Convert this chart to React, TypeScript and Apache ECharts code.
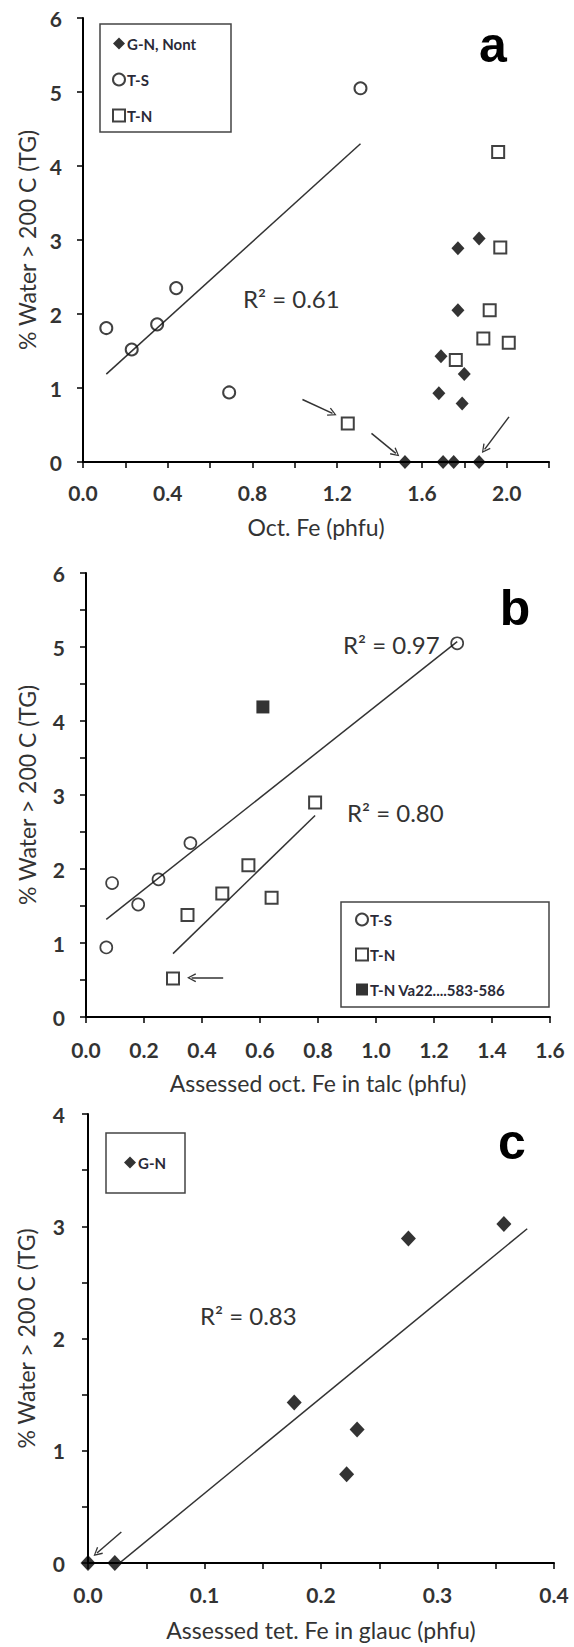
import React, { useEffect, useRef } from "react";
import * as echarts from "echarts";

// ---- Panel a: Oct. Fe (phfu) vs % water > 200 C ----
const aGN_x = [1.77, 1.87, 1.77, 1.69, 1.8, 1.68, 1.79, 1.52, 1.7, 1.75, 1.87];
const aGN_y = [2.89, 3.02, 2.05, 1.43, 1.19, 0.93, 0.79, 0, 0, 0, 0];
const aTS_x = [0.11, 0.23, 0.35, 0.44, 0.69, 1.31];
const aTS_y = [1.81, 1.52, 1.86, 2.35, 0.94, 5.05];
const aTN_x = [1.96, 1.97, 1.92, 1.89, 2.01, 1.76, 1.25];
const aTN_y = [4.19, 2.9, 2.05, 1.67, 1.61, 1.38, 0.52];
const aR2 = "R² = 0.61";
const aXTicks = ["0.0", "0.4", "0.8", "1.2", "1.6", "2.0"];

// ---- Panel b: assessed oct. Fe in talc ----
const bTS_x = [0.07, 0.09, 0.18, 0.25, 0.36, 1.28];
const bTS_y = [0.94, 1.81, 1.52, 1.86, 2.35, 5.05];
const bTN_x = [0.3, 0.35, 0.47, 0.56, 0.64, 0.79];
const bTN_y = [0.52, 1.38, 1.67, 2.05, 1.61, 2.9];
const bVa_x = [0.61];
const bVa_y = [4.19];
const bR2 = ["R² = 0.97", "R² = 0.80"];

// ---- Panel c: assessed tet. Fe in glauconite ----
const cGN_x = [0.0, 0.023, 0.177, 0.222, 0.231, 0.275, 0.357];
const cGN_y = [0, 0, 1.43, 0.79, 1.19, 2.89, 3.02];
const cTrendSpan = [0, 0.377];
const cR2 = "R² = 0.83";

// Annotation arrows, [start, end] in data units of each panel
const aArrows = [
  [[1.036, 0.845], [1.178, 0.657]],
  [[1.362, 0.387], [1.477, 0.117]],
  [[2.011, 0.61], [1.896, 0.171]],
];
const bArrows = [[[0.473, 0.53], [0.364, 0.53]]];
const cArrows = [[[0.0286, 0.276], [0.0077, 0.089]]];

const FONT = "Lato, 'Open Sans', sans-serif";
const TEXT = "#333";
const Y_NAME = "% Water > 200 C (TG)";
const ARROW_HEAD = "path://M5,0 L10,9 L8.7,9.7 L5,2.6 L1.3,9.7 L0,9 Z";

const pairs = (xs: number[], ys: number[]) => xs.map((x, i) => [x, ys[i]]);

// least-squares fit drawn between two x positions
function trend(xs: number[], ys: number[], x0 = Math.min(...xs), x1 = Math.max(...xs)) {
  const n = xs.length;
  const mx = xs.reduce((s, v) => s + v, 0) / n;
  const my = ys.reduce((s, v) => s + v, 0) / n;
  let sxy = 0;
  let sxx = 0;
  for (let i = 0; i < n; i++) {
    sxy += (xs[i] - mx) * (ys[i] - my);
    sxx += (xs[i] - mx) * (xs[i] - mx);
  }
  const m = sxy / sxx;
  const b = my - m * mx;
  return [
    [x0, m * x0 + b],
    [x1, m * x1 + b],
  ];
}

const axisLine = { show: true, onZero: false, lineStyle: { color: "#000", width: 2 } };
const axisTick = { show: true, length: 6, lineStyle: { color: "#000", width: 1.5 } };
const labelStyle = { fontFamily: FONT, fontSize: 21, fontWeight: "bold" as const, color: TEXT };
const nameStyle = { fontFamily: FONT, fontSize: 23, color: TEXT };
const intOnly = (v: number) => (Math.abs(v - Math.round(v)) < 1e-6 ? String(Math.round(v)) : "");

function xAxis(gridIndex: number, max: number, interval: number, name: string, nameGap: number, margin: number, formatter: (v: number) => string) {
  return {
    type: "value",
    gridIndex,
    min: 0,
    max,
    interval,
    name,
    nameLocation: "middle",
    nameGap,
    nameTextStyle: nameStyle,
    axisLine,
    axisTick,
    axisLabel: { ...labelStyle, margin, formatter },
    splitLine: { show: false },
  };
}

function yAxis(gridIndex: number, max: number, interval: number, nameGap: number, margin: number) {
  return {
    type: "value",
    gridIndex,
    min: 0,
    max,
    interval,
    name: Y_NAME,
    nameLocation: "middle",
    nameGap,
    nameTextStyle: nameStyle,
    axisLine,
    axisTick,
    axisLabel: { ...labelStyle, margin, formatter: intOnly },
    splitLine: { show: false },
  };
}

function arrowLines(arrows: number[][][]) {
  return {
    silent: true,
    symbol: ["none", ARROW_HEAD],
    symbolSize: [9, 9],
    lineStyle: { color: "#333", width: 1.5, type: "solid" },
    label: { show: false },
    emphasis: { disabled: true },
    data: arrows.map(([s, e]) => [{ coord: s }, { coord: e }]),
  };
}

function trendSeries(idx: number, data: number[][], arrows?: number[][][]) {
  return {
    type: "line",
    xAxisIndex: idx,
    yAxisIndex: idx,
    data,
    symbol: "none",
    silent: true,
    clip: true,
    lineStyle: { color: "#333", width: 1.5 },
    z: 1,
    ...(arrows ? { markLine: arrowLines(arrows) } : {}),
  };
}

const hollow = { color: "rgba(0,0,0,0)", borderColor: "#111", borderWidth: 2 };

function scatter(name: string, idx: number, data: number[][], symbol: string, size: number | number[], itemStyle: object) {
  return { type: "scatter", name, xAxisIndex: idx, yAxisIndex: idx, data, symbol, symbolSize: size, itemStyle, clip: false, silent: true, z: 3 };
}

const legendText = { fontFamily: FONT, fontSize: 15, fontWeight: "bold" as const, color: "#2a2a38", padding: [0, 0, 0, -3] };

function legend(names: string[], left: number, top: number, itemGap: number) {
  return {
    data: names,
    orient: "vertical",
    left,
    top,
    itemGap,
    itemWidth: 12,
    itemHeight: 12,
    padding: 0,
    selectedMode: false,
    textStyle: legendText,
  };
}

const boxStyle = { fill: "none", stroke: "#444", lineWidth: 1.5 };
const r2Style = (text: string) => ({ text, fontFamily: FONT, fontSize: 24, fill: TEXT, align: "left", verticalAlign: "middle" });
const letterStyle = (text: string) => ({ text, fontFamily: "'Liberation Sans', Arial, sans-serif", fontSize: 50, fontWeight: "bold", fill: "#000", align: "center", verticalAlign: "middle" });

export default function App() {
  const ref = useRef<HTMLDivElement>(null);

  useEffect(() => {
    if (!ref.current) return;
    const chart = echarts.init(ref.current, undefined, { renderer: "svg" });

    const option = {
      animation: false,
      backgroundColor: "#fff",
      grid: [
        { left: 83, top: 18, width: 466, height: 444 },
        { left: 86, top: 573, width: 464, height: 444 },
        { left: 88, top: 1114, width: 466, height: 449 },
      ],
      xAxis: [
        xAxis(0, 2.2, 0.2, "Oct. Fe (phfu)", 53, 20, (v) => {
          const s = v.toFixed(1);
          return aXTicks.includes(s) ? s : "";
        }),
        xAxis(1, 1.6, 0.2, "Assessed oct. Fe in talc (phfu)", 54, 22, (v) => v.toFixed(1)),
        xAxis(2, 0.4, 0.05, "Assessed tet. Fe in glauc (phfu)", 55, 21, (v) =>
          Math.round(v * 100) % 10 === 0 ? v.toFixed(1) : ""
        ),
      ],
      yAxis: [yAxis(0, 6, 1, 44, 21), yAxis(1, 6, 0.5, 48, 21), yAxis(2, 4, 0.5, 51, 23)],
      legend: [
        legend(["G-N, Nont", "T-S", "T-N"], 112, 36, 21),
        legend(["T-S", "T-N", "T-N Va22....583-586"], 355, 912, 20),
        legend(["G-N"], 124, 1155, 10),
      ],
      series: [
        // panel a
        trendSeries(0, trend(aTS_x, aTS_y), aArrows),
        scatter("G-N, Nont", 0, pairs(aGN_x, aGN_y), "diamond", [13, 14], { color: "#000" }),
        scatter("T-S", 0, pairs(aTS_x, aTS_y), "circle", 12, hollow),
        scatter("T-N", 0, pairs(aTN_x, aTN_y), "rect", 12, hollow),
        // panel b
        trendSeries(1, trend(bTS_x, bTS_y)),
        trendSeries(1, trend(bTN_x, bTN_y), bArrows),
        scatter("T-S", 1, pairs(bTS_x, bTS_y), "circle", 12, { ...hollow, borderWidth: 1.7 }),
        scatter("T-N", 1, pairs(bTN_x, bTN_y), "rect", 12, hollow),
        scatter("T-N Va22....583-586", 1, pairs(bVa_x, bVa_y), "rect", 13, { color: "#000" }),
        // panel c
        trendSeries(2, trend(cGN_x, cGN_y, cTrendSpan[0], cTrendSpan[1]), cArrows),
        scatter("G-N", 2, pairs(cGN_x, cGN_y), "diamond", [15, 16], { color: "#000" }),
      ],
      graphic: [
        { type: "rect", shape: { x: 100, y: 24, width: 131, height: 108 }, style: boxStyle, silent: true },
        { type: "rect", shape: { x: 341, y: 902, width: 208, height: 105 }, style: boxStyle, silent: true },
        { type: "rect", shape: { x: 106, y: 1133, width: 79, height: 60 }, style: boxStyle, silent: true },
        { type: "text", x: 243, y: 298, style: r2Style(aR2), silent: true },
        { type: "text", x: 343, y: 644, style: r2Style(bR2[0]), silent: true },
        { type: "text", x: 347, y: 812, style: r2Style(bR2[1]), silent: true },
        { type: "text", x: 200, y: 1315, style: r2Style(cR2), silent: true },
        { type: "text", x: 493, y: 45, style: letterStyle("a"), silent: true },
        { type: "text", x: 515, y: 608, style: letterStyle("b"), silent: true },
        { type: "text", x: 512, y: 1142, style: letterStyle("c"), silent: true },
      ],
    };

    chart.setOption(option as any);
    return () => chart.dispose();
  }, []);

  return (
    <div
      ref={ref}
      style={{ position: "absolute", left: 0, top: 0, width: 574, height: 1647, background: "#fff" }}
    />
  );
}
